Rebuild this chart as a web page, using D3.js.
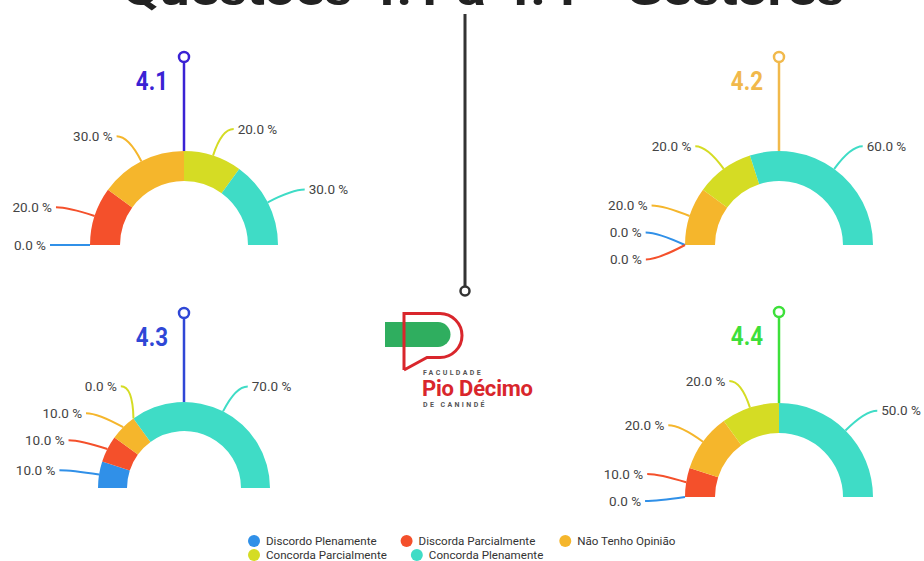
<!DOCTYPE html>
<html>
<head>
<meta charset="utf-8">
<script src="https://cdn.jsdelivr.net/npm/d3@7"></script>
<style>
  html, body { margin: 0; padding: 0; background: #ffffff; }
  svg { display: block; font-family: Roboto, "Noto Sans", Arial, sans-serif; }
</style>
</head>
<body>
<svg id="chart" width="924" height="561"></svg>
<script>
// ---------- data ----------
const titleText = "Questões 4.1 a 4.4 - Gestores";
const categories = ["Discordo Plenamente", "Discorda Parcialmente", "Não Tenho Opinião", "Concorda Parcialmente", "Concorda Plenamente"];
const questions = ["4.1", "4.2", "4.3", "4.4"];
const values41 = [0, 20, 30, 20, 30];
const values42 = [0, 0, 20, 20, 60];
const values43 = [10, 10, 10, 0, 70];
const values44 = [0, 10, 20, 20, 50];
const seriesValues = [values41, values42, values43, values44];

// ---------- styles / layout ----------
const sliceColors = ["#3090e8", "#f4502b", "#f5b62c", "#d5dc24", "#3fdcc6"];
const pinColors = ["#3a22d4", "#f1b94b", "#2f47d6", "#3de03a"];
const layout = [
  { cx: 184, cy: 245, rOut: 94, rIn: 64, pinY: 57 },
  { cx: 779, cy: 245, rOut: 94, rIn: 64, pinY: 57 },
  { cx: 184, cy: 488, rOut: 86, rIn: 57, pinY: 313 },
  { cx: 779, cy: 497, rOut: 94, rIn: 64, pinY: 312 }
];

const svg = d3.select("#chart");

// title (top is cut off in the reference)
svg.append("text")
  .attr("x", 483).attr("y", 5)
  .attr("text-anchor", "middle")
  .attr("font-size", 46).attr("font-weight", 700)
  .attr("fill", "#222")
  .attr("textLength", 722).attr("lengthAdjust", "spacingAndGlyphs")
  .text(titleText);

// central line with pin
svg.append("line")
  .attr("x1", 465).attr("x2", 465).attr("y1", 14).attr("y2", 286)
  .attr("stroke", "#333").attr("stroke-width", 3);
svg.append("circle")
  .attr("cx", 465).attr("cy", 291).attr("r", 4.5)
  .attr("fill", "#fff").attr("stroke", "#333").attr("stroke-width", 2.5);

// logo
const logo = svg.append("g");
logo.append("path")
  .attr("d", "M385,322 H438 A12.5,12.5 0 0 1 438,347 H385 Z")
  .attr("fill", "#2fae5f");
logo.append("path")
  .attr("d", "M404,370 V313.5 H440 A22,22 0 0 1 440,357.5 H427 L404,370")
  .attr("fill", "none").attr("stroke", "#d9262c").attr("stroke-width", 3)
  .attr("stroke-linejoin", "miter");
logo.append("text").attr("x", 423).attr("y", 375)
  .attr("font-size", 7).attr("font-weight", 700).attr("letter-spacing", 2.4)
  .attr("fill", "#555").text("FACULDADE");
logo.append("text").attr("x", 422).attr("y", 396)
  .attr("font-size", 22).attr("font-weight", 700).attr("letter-spacing", -0.2)
  .attr("fill", "#d9262c").text("Pio Décimo");
logo.append("text").attr("x", 423).attr("y", 407)
  .attr("font-size", 7).attr("font-weight", 700).attr("letter-spacing", 2.4)
  .attr("fill", "#555").text("DE CANINDÉ");

// ---------- gauges ----------
const pie = d3.pie().sort(null).value(d => d.value)
  .startAngle(-Math.PI / 2).endAngle(Math.PI / 2);

const EXT = 28, HLINE = 12, TGAP = 4, GAP = 27;

function placeSide(items) {
  // cluster-based label spreading
  items.sort((a, b) => a.ideal - b.ideal || a.idx - b.idx);
  let clusters = items.map(it => ({ items: [it] }));
  const pos = c => {
    const m = d3.mean(c.items, d => d.ideal);
    const n = c.items.length;
    c.top = m - (n - 1) / 2 * GAP;
    c.bottom = c.top + (n - 1) * GAP;
  };
  clusters.forEach(pos);
  let merged = true;
  while (merged) {
    merged = false;
    for (let i = 1; i < clusters.length; i++) {
      if (clusters[i].top - clusters[i - 1].bottom < GAP) {
        clusters[i - 1].items = clusters[i - 1].items.concat(clusters[i].items);
        clusters.splice(i, 1);
        pos(clusters[i - 1]);
        merged = true;
        break;
      }
    }
  }
  clusters.forEach(c => c.items.forEach((it, i) => { it.y = c.top + i * GAP; }));
}

seriesValues.forEach((vals, qi) => {
  const L = layout[qi];
  const g = svg.append("g").attr("transform", `translate(${L.cx},${L.cy})`);
  const data = vals.map((v, i) => ({ value: v, cat: categories[i], idx: i }));
  const arcs = pie(data);
  const arc = d3.arc().innerRadius(L.rIn).outerRadius(L.rOut);

  g.selectAll("path.slice").data(arcs).enter().append("path")
    .attr("class", "slice")
    .attr("d", arc)
    .attr("fill", d => sliceColors[d.data.idx]);

  // labels
  const R2 = L.rOut + EXT;
  const items = arcs.map(a => {
    const mid = (a.startAngle + a.endAngle) / 2;
    const p1 = [Math.sin(mid) * L.rOut, -Math.cos(mid) * L.rOut];
    const ideal = -Math.cos(mid) * R2;
    return { a, mid, p1, ideal, idx: a.data.idx, left: mid < 0 };
  });
  placeSide(items.filter(d => d.left));
  placeSide(items.filter(d => !d.left));

  items.forEach(it => {
    const dy = Math.abs(it.y);
    const dx = dy < R2 ? Math.sqrt(R2 * R2 - dy * dy) : 0;
    const sgn = it.left ? -1 : 1;
    const xc = sgn * dx;
    const x3 = xc + sgn * HLINE;
    g.append("path")
      .attr("d", `M${it.p1[0]},${it.p1[1]} Q${xc},${it.y} ${x3},${it.y}`)
      .attr("fill", "none")
      .attr("stroke", sliceColors[it.idx])
      .attr("stroke-width", 2);
    g.append("text")
      .attr("x", x3 + sgn * TGAP).attr("y", it.y)
      .attr("dy", "0.35em")
      .attr("text-anchor", it.left ? "end" : "start")
      .attr("font-size", 13.5)
      .attr("fill", "#444")
      .text(d3.format(".1f")(it.a.data.value) + " %");
  });

  // pin
  const pinG = svg.append("g");
  pinG.append("line")
    .attr("x1", L.cx).attr("x2", L.cx)
    .attr("y1", L.pinY + 5).attr("y2", L.cy - L.rOut)
    .attr("stroke", pinColors[qi]).attr("stroke-width", 2.5);
  pinG.append("circle")
    .attr("cx", L.cx).attr("cy", L.pinY).attr("r", 5)
    .attr("fill", "#fff").attr("stroke", pinColors[qi]).attr("stroke-width", 2.5);
  pinG.append("text")
    .attr("transform", `translate(${L.cx - 16},${L.pinY + 24}) scale(0.86,1)`)
    .attr("dy", "0.35em")
    .attr("text-anchor", "end")
    .attr("font-size", 26).attr("font-weight", 700)
    .attr("fill", pinColors[qi])
    .text(questions[qi]);
});

// ---------- legend ----------
const legend = svg.append("g");
let lx = 248, row = 0;
categories.forEach((c, i) => {
  if (i === 3) { lx = 248; row = 1; }
  const ly = 541 + row * 14;
  const item = legend.append("g").attr("transform", `translate(${lx},${ly})`);
  item.append("circle").attr("cx", 6).attr("cy", 0).attr("r", 6).attr("fill", sliceColors[i]);
  const t = item.append("text").attr("x", 18).attr("y", 0).attr("dy", "0.35em")
    .attr("font-size", 11.6).attr("fill", "#333").text(c);
  lx += 18 + t.node().getComputedTextLength() + 24;
});
</script>
</body>
</html>
